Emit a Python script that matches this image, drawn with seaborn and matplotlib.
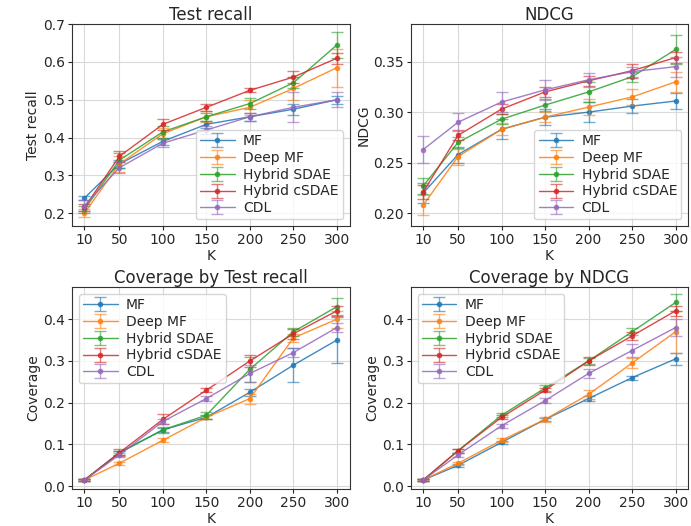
import numpy as np
import pandas as pd
import matplotlib
matplotlib.use("Agg")
import matplotlib.pyplot as plt
import seaborn as sns

# x values
K = [10, 50, 100, 150, 200, 250, 300]
models = ["MF", "Deep MF", "Hybrid SDAE", "Hybrid cSDAE", "CDL"]

# Test recall (mean, err)
recall_mf = [0.24, 0.33, 0.39, 0.435, 0.455, 0.475, 0.50]
recall_deep = [0.20, 0.33, 0.41, 0.455, 0.48, 0.53, 0.585]
recall_sdae = [0.21, 0.34, 0.415, 0.455, 0.49, 0.545, 0.645]
recall_csdae = [0.215, 0.35, 0.435, 0.48, 0.525, 0.56, 0.61]
recall_cdl = [0.22, 0.32, 0.385, 0.42, 0.455, 0.48, 0.50]
recall_err_mf = [0.005, 0.01, 0.01, 0.01, 0.01, 0.015, 0.01]
recall_err_deep = [0.01, 0.02, 0.015, 0.015, 0.02, 0.03, 0.05]
recall_err_sdae = [0.01, 0.02, 0.015, 0.01, 0.015, 0.015, 0.035]
recall_err_csdae = [0.01, 0.015, 0.015, 0.01, 0.005, 0.015, 0.015]
recall_err_cdl = [0.015, 0.015, 0.01, 0.01, 0.01, 0.04, 0.02]

# NDCG
ndcg_mf = [0.22, 0.258, 0.283, 0.295, 0.30, 0.306, 0.311]
ndcg_deep = [0.208, 0.256, 0.283, 0.295, 0.305, 0.315, 0.33]
ndcg_sdae = [0.227, 0.27, 0.293, 0.307, 0.32, 0.335, 0.362]
ndcg_csdae = [0.221, 0.277, 0.303, 0.32, 0.331, 0.341, 0.354]
ndcg_cdl = [0.263, 0.29, 0.31, 0.322, 0.332, 0.34, 0.345]
ndcg_err_mf = [0.01, 0.008, 0.01, 0.008, 0.01, 0.007, 0.008]
ndcg_err_deep = [0.01, 0.008, 0.006, 0.005, 0.008, 0.008, 0.01]
ndcg_err_sdae = [0.008, 0.005, 0.005, 0.006, 0.01, 0.005, 0.014]
ndcg_err_csdae = [0.007, 0.005, 0.005, 0.005, 0.005, 0.007, 0.005]
ndcg_err_cdl = [0.013, 0.009, 0.01, 0.01, 0.007, 0.005, 0.01]

# Coverage by Test recall
cov_r_mf = [0.015, 0.08, 0.135, 0.165, 0.225, 0.29, 0.35]
cov_r_deep = [0.015, 0.055, 0.11, 0.165, 0.21, 0.355, 0.40]
cov_r_sdae = [0.015, 0.08, 0.135, 0.17, 0.28, 0.37, 0.43]
cov_r_csdae = [0.015, 0.08, 0.16, 0.23, 0.30, 0.365, 0.42]
cov_r_cdl = [0.015, 0.075, 0.155, 0.21, 0.27, 0.32, 0.38]
cov_r_err_mf = [0.002, 0.004, 0.005, 0.005, 0.008, 0.04, 0.055]
cov_r_err_deep = [0.002, 0.003, 0.005, 0.005, 0.012, 0.01, 0.02]
cov_r_err_sdae = [0.002, 0.005, 0.008, 0.008, 0.03, 0.01, 0.02]
cov_r_err_csdae = [0.002, 0.008, 0.012, 0.005, 0.015, 0.012, 0.012]
cov_r_err_cdl = [0.002, 0.004, 0.005, 0.005, 0.02, 0.01, 0.01]

# Coverage by NDCG
cov_n_mf = [0.015, 0.05, 0.105, 0.16, 0.21, 0.26, 0.305]
cov_n_deep = [0.015, 0.055, 0.11, 0.16, 0.22, 0.295, 0.37]
cov_n_sdae = [0.015, 0.085, 0.17, 0.235, 0.30, 0.37, 0.44]
cov_n_csdae = [0.015, 0.085, 0.165, 0.23, 0.30, 0.36, 0.42]
cov_n_cdl = [0.015, 0.075, 0.145, 0.205, 0.27, 0.325, 0.38]
cov_n_err_mf = [0.002, 0.003, 0.004, 0.004, 0.006, 0.005, 0.015]
cov_n_err_deep = [0.002, 0.003, 0.005, 0.006, 0.01, 0.012, 0.05]
cov_n_err_sdae = [0.002, 0.005, 0.005, 0.008, 0.008, 0.008, 0.02]
cov_n_err_csdae = [0.002, 0.005, 0.005, 0.005, 0.01, 0.01, 0.012]
cov_n_err_cdl = [0.002, 0.004, 0.005, 0.006, 0.01, 0.015, 0.02]

panels = [
    ("Test recall", "Test recall", "lower right", (0.165, 0.70),
     [recall_mf, recall_deep, recall_sdae, recall_csdae, recall_cdl],
     [recall_err_mf, recall_err_deep, recall_err_sdae, recall_err_csdae, recall_err_cdl]),
    ("NDCG", "NDCG", "lower right", (0.187, 0.387),
     [ndcg_mf, ndcg_deep, ndcg_sdae, ndcg_csdae, ndcg_cdl],
     [ndcg_err_mf, ndcg_err_deep, ndcg_err_sdae, ndcg_err_csdae, ndcg_err_cdl]),
    ("Coverage by Test recall", "Coverage", "upper left", (-0.007, 0.477),
     [cov_r_mf, cov_r_deep, cov_r_sdae, cov_r_csdae, cov_r_cdl],
     [cov_r_err_mf, cov_r_err_deep, cov_r_err_sdae, cov_r_err_csdae, cov_r_err_cdl]),
    ("Coverage by NDCG", "Coverage", "upper left", (-0.007, 0.477),
     [cov_n_mf, cov_n_deep, cov_n_sdae, cov_n_csdae, cov_n_cdl],
     [cov_n_err_mf, cov_n_err_deep, cov_n_err_sdae, cov_n_err_csdae, cov_n_err_cdl]),
]

sns.set_style("ticks", {"axes.grid": True, "grid.color": "#d9d9d9",
                        "axes.edgecolor": "#333333"})
plt.rcParams["font.family"] = ["DejaVu Sans"]
colors = sns.color_palette("tab10", 5)

fig, axes = plt.subplots(2, 2, figsize=(6.91, 5.26), dpi=100)
fig.subplots_adjust(left=0.104, right=0.996, top=0.954, bottom=0.070,
                    wspace=0.22, hspace=0.30)

for ax, (title, ylabel, loc, ylim, series, errs) in zip(axes.flat, panels):
    handles = []
    for name, vals, err, c in zip(models, series, errs, colors):
        df = pd.DataFrame({"K": K, "val": vals})
        sns.lineplot(data=df, x="K", y="val", color=c, marker="o", markersize=4,
                     markeredgewidth=0, linewidth=1, alpha=0.85, ax=ax, legend=False)
        line = ax.lines[-1]
        eb = ax.errorbar(K, vals, yerr=err, fmt="none", ecolor=c, elinewidth=1,
                         capsize=4, alpha=0.6)
        handles.append((line, eb))
    ax.set_title(title, fontsize=12, pad=3)
    ax.set_xlabel("K", fontsize=10, labelpad=1)
    ax.set_ylabel(ylabel, fontsize=10, labelpad=2)
    ax.set_xticks(K)
    ax.set_ylim(*ylim)
    ax.tick_params(labelsize=10, length=3, pad=2)
    ax.legend(handles, models, loc=loc, fontsize=10, handlelength=2.5,
              borderpad=0.3, labelspacing=0.2, handletextpad=0.6)

fig.savefig("out.png", dpi=100)
